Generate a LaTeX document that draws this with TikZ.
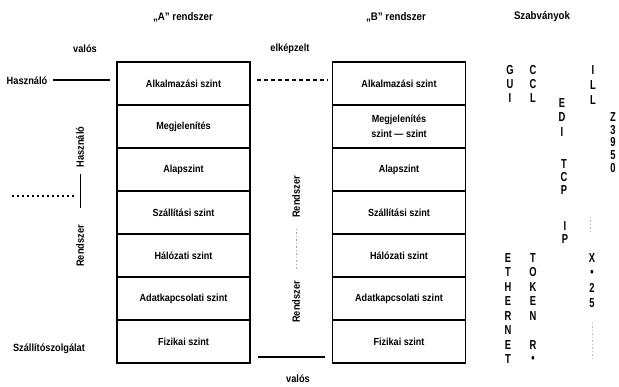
\documentclass[tikz,border=0pt]{standalone}
\usepackage{fontspec}
\setmainfont{Liberation Sans}[FakeStretch=0.88]
\newfontfamily\narrowsans{Liberation Sans}[FakeStretch=0.72]
\begin{document}
\begin{tikzpicture}[x=1pt,y=-1pt,
  layer/.style={draw, line width=1.5pt, minimum width=133pt, minimum height=43pt,
    inner sep=0pt, align=center, font=\fontsize{10.3}{15}\selectfont\bfseries},
  tag/.style={inner sep=0pt, font=\fontsize{10.5}{12}\selectfont\bfseries},
  head/.style={inner sep=0pt, font=\fontsize{11}{13}\selectfont\bfseries},
  std/.style={inner sep=0pt, font=\narrowsans\fontsize{13}{14}\selectfont\bfseries},
  rule/.style={line width=1.4pt},
  thin/.style={line width=0.7pt},
  dots/.style={line width=2pt, dash pattern=on 2pt off 3pt},
  faint/.style={gray!55, line width=0.8pt, dash pattern=on 1.5pt off 2pt}]
\useasboundingbox (0,0) rectangle (619,387);
\fill[white] (0,0) rectangle (619,387);

% column headings
\node[head] (hA) at (183,17) {„A” rendszer};
\node[head] (hB) at (396,17) {„B” rendszer};
\node[head] (hS) at (542,17) {Szabványok};

% the two layer stacks
\foreach \t [count=\i] in {Alkalmazási szint, Megjelenítés, Alapszint,
    Szállítási szint, Hálózati szint, Adatkapcsolati szint, Fizikai szint}
  \node[layer] (a\i) at (183.5,40.5+43*\i) {\t};
\foreach \t [count=\i] in {Alkalmazási szint, {Megjelenítés\\szint --- szint}, Alapszint,
    Szállítási szint, Hálózati szint, Adatkapcsolati szint, Fizikai szint}
  \node[layer] (b\i) at (399,40.5+43*\i) {\t};

% labels around the stacks
\node[tag] (valos1) at (85,49) {valós};
\node[tag] (elk) at (290,49) {elképzelt};
\node[tag] (hasz) at (27,81) {Használó};
\node[tag] (szall) at (49,349) {Szállítószolgálat};
\node[tag] (valos2) at (298,379) {valós};

% user level: real and imagined connection
\coordinate (u0) at (53,80);
\coordinate (u1) at (110,80);
\draw[rule] (u0) -- (u1);
\coordinate (e0) at (257,80);
\coordinate (e1) at (328,80);
\draw[rule, dash pattern=on 4pt off 3pt] (e0) -- (e1);

% physical level: real connection
\coordinate (p0) at (258,357);
\coordinate (p1) at (325,357);
\draw[rule] (p0) -- (p1);

% left divider between user and system parts
\node[tag, rotate=90] (lh) at (80,147) {Használó};
\node[tag, rotate=90] (lr) at (80,246) {Rendszer};
\coordinate (l0) at (80,174);
\coordinate (l1) at (80,208);
\draw[thin] (l0) -- (l1);
\coordinate (d0) at (12,196);
\coordinate (d1) at (74,196);
\draw[dots] (d0) -- (d1);

% middle system-to-system labels
\node[tag, rotate=90] (mr1) at (296,197) {Rendszer};
\node[tag, rotate=90] (mr2) at (296,302) {Rendszer};
\coordinate (m0) at (296,229);
\coordinate (m1) at (296,270);
\draw[faint, gray!70] (m0) -- (m1);

% standards, written vertically
\foreach \l [count=\i from 0] in {G,U,I}
  \node[std] (gui\i) at (510,70+14*\i) {\l};
\foreach \l [count=\i from 0] in {C,C,L}
  \node[std] (ccl\i) at (533,70+14*\i) {\l};
\foreach \l [count=\i from 0] in {I,L,L}
  \node[std] (ill\i) at (593,70+15*\i) {\l};
\foreach \l [count=\i from 0] in {E,D,I}
  \node[std] (edi\i) at (562,103+14.5*\i) {\l};
\foreach \l [count=\i from 0] in {Z,3,9,5,0}
  \node[std] (z\i) at (613,117+12.7*\i) {\l};
\foreach \l [count=\i from 0] in {T,C,P}
  \node[std] (tcp\i) at (564,164+13*\i) {\l};
\foreach \l [count=\i from 0] in {I,P}
  \node[std] (ip\i) at (565,226+13*\i) {\l};
\foreach \l [count=\i from 0] in {E,T,H,E,R,N,E,T}
  \node[std] (eth\i) at (508,258+14.5*\i) {\l};
\foreach \l [count=\i from 0] in {T,O,K,E,N,{},R,\textbullet}
  \node[std] (tok\i) at (533,258+14.5*\i) {\l};
\foreach \l [count=\i from 0] in {X,\textbullet,2,5}
  \node[std] (x\i) at (592,258+15*\i) {\l};

\coordinate (s0) at (590,217);
\coordinate (s1) at (590,234);
\draw[faint] (s0) -- (s1);
\coordinate (s2) at (592,323);
\coordinate (s3) at (592,360);
\draw[faint] (s2) -- (s3);
\end{tikzpicture}
\end{document}
